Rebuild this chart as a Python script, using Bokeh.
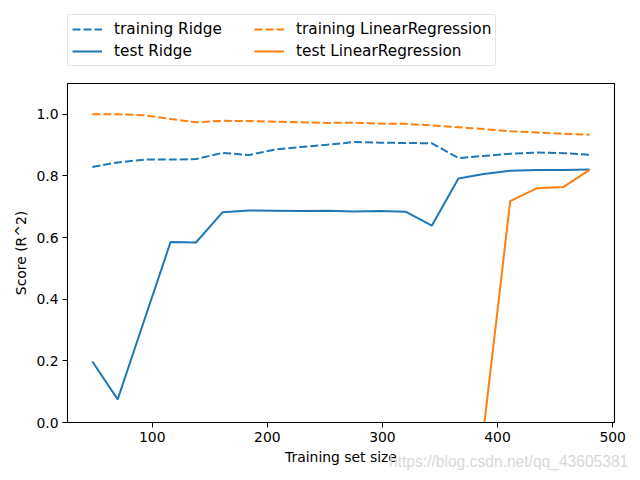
import numpy as np
from bokeh.plotting import figure
from bokeh.layouts import column
from bokeh.models import Range1d, Legend, LegendItem, FixedTicker, Div
from bokeh.embed import file_html
from bokeh.resources import INLINE

# training set sizes
train_sizes = [48, 70, 93, 116, 138, 161, 184, 207, 229, 252,
               275, 298, 320, 343, 366, 388, 411, 434, 457, 480]

train_ridge = [0.829, 0.844, 0.853, 0.853, 0.855, 0.875, 0.868, 0.886, 0.894, 0.901,
               0.910, 0.908, 0.907, 0.906, 0.858, 0.865, 0.872, 0.876, 0.874, 0.869]
test_ridge = [0.198, 0.075, 0.331, 0.586, 0.584, 0.682, 0.688, 0.687, 0.686, 0.687,
              0.685, 0.686, 0.684, 0.639, 0.792, 0.806, 0.817, 0.819, 0.819, 0.821]
train_lr = [1.000, 1.000, 0.997, 0.985, 0.974, 0.979, 0.978, 0.976, 0.974, 0.972,
            0.973, 0.970, 0.969, 0.964, 0.958, 0.952, 0.945, 0.941, 0.937, 0.934]
# values below the visible range (far negative, not readable) are left as NaN
test_lr = [np.nan] * 15 + [-0.02, 0.718, 0.760, 0.764, 0.820]

series_labels = ["training Ridge", "test Ridge",
                 "training LinearRegression", "test LinearRegression"]
x_ticks = [100, 200, 300, 400, 500]
y_ticks = [0.0, 0.2, 0.4, 0.6, 0.8, 1.0]
x_title = "Training set size"
y_title = "Score (R^2)"
watermark = "https://blog.csdn.net/qq_43605381"

BLUE = "#1f77b4"
ORANGE = "#ff7f0e"
FONT = "DejaVu Sans"
W = 632
DASH = "8 3"
styles = [(BLUE, DASH), (BLUE, "solid"), (ORANGE, DASH), (ORANGE, "solid")]

# ---- top strip: legend ----
TOP_H = 81
top = figure(width=W, height=TOP_H, output_backend="svg", toolbar_location=None,
             x_range=Range1d(0, 10), y_range=Range1d(0, 10),
             x_axis_type=None, y_axis_type=None,
             min_border_left=0, min_border_right=0, min_border_top=0, min_border_bottom=0)
top.xgrid.visible = False
top.ygrid.visible = False
top.outline_line_color = None
items = []
for lab, (c, d) in zip(series_labels, styles):
    # legend sample only: a line kept outside the visible range
    rr = top.line(x=[-20, -19], y=[-20, -20], line_color=c, line_width=2, line_dash=d)
    items.append(LegendItem(label=lab, renderers=[rr]))
legend = Legend(items=items, location=(0, 15), ncols=2)
legend.label_text_font = FONT
legend.label_text_font_size = "15.3px"
legend.label_text_color = "black"
legend.glyph_width = 30
legend.glyph_height = 20
legend.label_height = 20
legend.label_width = 138
legend.label_standoff = 12
legend.spacing = 2
legend.padding = 4
legend.margin = 0
legend.border_line_color = "#cccccc"
legend.border_line_width = 1
legend.border_radius = 3
legend.background_fill_alpha = 0.8
top.add_layout(legend, "center")

# ---- main plot ----
MAIN_H = 391
p = figure(width=W, height=MAIN_H, output_backend="svg", toolbar_location=None,
           x_range=Range1d(26.4, 501.6), y_range=Range1d(0, 1.1),
           min_border_left=67, min_border_right=18, min_border_top=2, min_border_bottom=50)
p.xgrid.visible = False
p.ygrid.visible = False
p.outline_line_color = "black"
p.outline_line_width = 1.1
p.outline_line_alpha = 1

for ys, (c, d) in zip([train_ridge, test_ridge, train_lr, test_lr], styles):
    p.line(train_sizes, ys, line_color=c, line_width=2, line_dash=d)

for ax in (p.xaxis[0], p.yaxis[0]):
    ax.major_label_text_font = FONT
    ax.major_label_text_font_size = "13.9px"
    ax.major_label_text_color = "black"
    ax.axis_label_text_font = FONT
    ax.axis_label_text_font_size = "13.9px"
    ax.axis_label_text_font_style = "normal"
    ax.axis_label_text_color = "black"
    ax.major_tick_in = 0
    ax.major_tick_out = 5
    ax.minor_tick_line_color = None
    ax.axis_line_color = "black"
    ax.major_tick_line_color = "black"
    ax.major_label_standoff = 4

p.xaxis[0].ticker = FixedTicker(ticks=x_ticks)
p.yaxis[0].ticker = FixedTicker(ticks=y_ticks)
p.yaxis[0].major_label_overrides = {v: f"{v:.1f}" for v in y_ticks}
p.xaxis[0].axis_label = x_title
p.yaxis[0].axis_label = y_title
p.xaxis[0].axis_label_standoff = 4
p.yaxis[0].axis_label_standoff = 4

# ---- watermark, overlapping the bottom edge of the plot ----
wm = Div(text=watermark, width=245, height=20, margin=(-19, 0, 0, 389),
         styles={"font-family": "Liberation Sans, Arial, sans-serif",
                 "font-size": "15.6px", "color": "#d8d8d8",
                 "white-space": "nowrap", "line-height": "18px"})

layout = column(top, p, wm, spacing=0)
open("out.html", "w").write(file_html(layout, INLINE))
